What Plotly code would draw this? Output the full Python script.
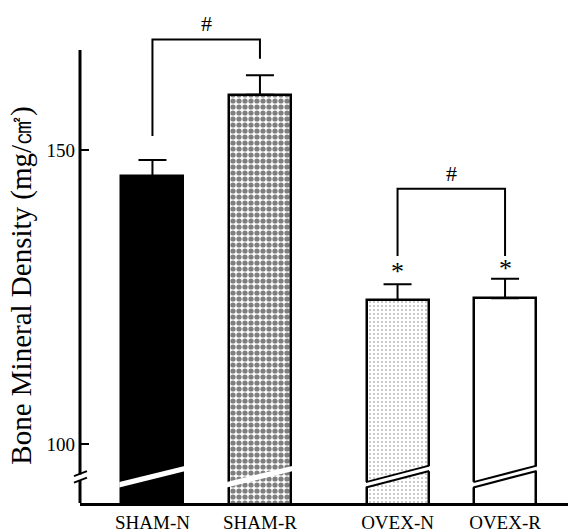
import plotly.graph_objects as go

# ---- data ----
categories = ["SHAM-N", "SHAM-R", "OVEX-N", "OVEX-R"]
group_of = [0, 0, 1, 1]
bmd_mean = [145.6, 159.4, 124.5, 124.8]
bmd_sem = [2.7, 3.3, 2.7, 3.3]
y_ticks = [100, 150]
# significance brackets: (left bar, right bar, left foot, right foot, top)
brackets = [(0, 1, 152.4, 165.5, 168.8), (2, 3, 132.0, 132.0, 143.4)]
bracket_mark = ["#", "#"]
star_bars = [2, 3]
star_levels = [130.0, 130.5]

# ---- layout helpers ----
GROUP_GAP = 0.28
xpos = [i + GROUP_GAP * g for i, g in enumerate(group_of)]
BAR_W = 0.577
Y_MIN, Y_MAX, AXIS_TOP = 90, 172.1, 167
SERIF = "Liberation Serif, Times New Roman, serif"

patterns = [
    dict(shape="", bgcolor="black"),
    dict(shape=".", fgcolor="black", bgcolor="white", size=6, solidity=0.6),
    dict(shape=".", fgcolor="black", bgcolor="white", size=4, solidity=0.12),
    dict(shape="", bgcolor="white"),
]
fills = ["black", "white", "white", "white"]
outlined_break = [False, False, True, True]

fig = go.Figure()
for i, c in enumerate(categories):
    fig.add_trace(go.Bar(
        x=[xpos[i]], y=[bmd_mean[i]], base=0, width=BAR_W,
        marker=dict(color=fills[i], pattern=patterns[i],
                    line=dict(color="black", width=2.5)),
        error_y=dict(type="data", array=[bmd_sem[i]], arrayminus=[0],
                     symmetric=False, color="black", thickness=2, width=14),
        showlegend=False, hoverinfo="skip",
    ))

shapes = []
# bar breaks
for i in range(len(categories)):
    x0 = xpos[i] - BAR_W / 2 - 0.02
    x1 = xpos[i] + BAR_W / 2 + 0.02
    yl, yr = 93.1, 95.9
    h = 0.45
    shapes.append(dict(type="path", xref="x", yref="y",
                       path=f"M{x0},{yl-h} L{x1},{yr-h} L{x1},{yr+h} L{x0},{yl+h} Z",
                       fillcolor="white", line=dict(width=0), layer="above"))
    if outlined_break[i]:
        xa = xpos[i] - BAR_W / 2 - 0.006
        xb = xpos[i] + BAR_W / 2 + 0.006
        for s in (-1, 1):
            shapes.append(dict(type="line", xref="x", yref="y",
                               x0=xa, x1=xb, y0=yl + s * h, y1=yr + s * h,
                               line=dict(color="black", width=2), layer="above"))

# y-axis line with break
shapes.append(dict(type="line", xref="paper", yref="y", x0=0, x1=0,
                   y0=Y_MIN, y1=93.8, line=dict(color="black", width=3)))
shapes.append(dict(type="line", xref="paper", yref="y", x0=0, x1=0,
                   y0=94.85, y1=AXIS_TOP, line=dict(color="black", width=3)))
for yc in (93.9, 95.0):
    shapes.append(dict(type="line", xref="paper", xsizemode="pixel", xanchor=0,
                       x0=-6, x1=7, yref="y", ysizemode="pixel", yanchor=yc,
                       y0=-2.5, y1=2.5, line=dict(color="black", width=2)))

annotations = []
# brackets
for (a, b, fl, fr, top), mark in zip(brackets, bracket_mark):
    shapes.append(dict(type="path", xref="x", yref="y",
                       path=f"M{xpos[a]},{fl} L{xpos[a]},{top} L{xpos[b]},{top} L{xpos[b]},{fr}",
                       line=dict(color="black", width=2)))
    annotations.append(dict(x=(xpos[a] + xpos[b]) / 2, y=top, yanchor="bottom",
                            yshift=1, text=mark, showarrow=False,
                            font=dict(family=SERIF, size=22, color="black")))
for b, lvl in zip(star_bars, star_levels):
    annotations.append(dict(x=xpos[b], y=lvl, yanchor="middle", yshift=-4,
                            text="*", showarrow=False,
                            font=dict(family=SERIF, size=26, color="black")))

# y title
annotations.append(dict(xref="paper", yref="paper", x=0, xshift=-58,
                        y=0.45, text="Bone Mineral Density (mg/㎠)",
                        textangle=-90, showarrow=False, xanchor="center",
                        yanchor="middle",
                        font=dict(family=SERIF, size=29, color="black")))

fig.update_layout(
    width=576, height=531,
    margin=dict(l=72, r=8, t=12, b=36, autoexpand=False),
    paper_bgcolor="white", plot_bgcolor="white",
    bargap=0,
    shapes=shapes, annotations=annotations,
    xaxis=dict(range=[-0.674, 3.94], tickmode="array", tickvals=xpos,
               ticktext=categories, showgrid=False, zeroline=False,
               showline=True, linecolor="black", linewidth=3, ticks="",
               automargin=False, ticklabelstandoff=0,
               tickfont=dict(family=SERIF, size=19, color="black")),
    yaxis=dict(range=[Y_MIN, Y_MAX], tickmode="array", tickvals=y_ticks,
               showgrid=False, zeroline=False, showline=False,
               ticks="inside", ticklen=9, tickwidth=2, tickcolor="black",
               automargin=False, ticklabelstandoff=4,
               tickfont=dict(family=SERIF, size=19, color="black")),
)

fig.write_html("out.html")
